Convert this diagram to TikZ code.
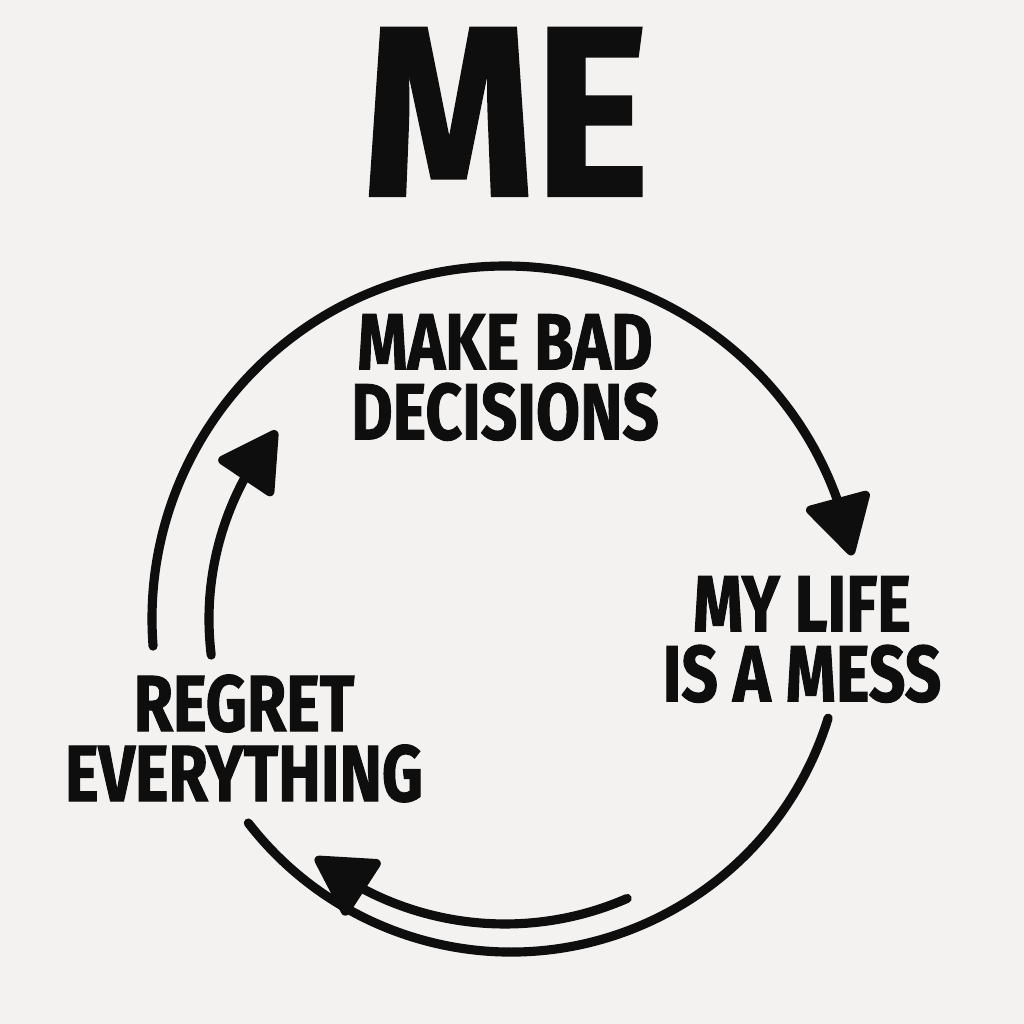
\documentclass[tikz,border=0pt]{standalone}
\usepackage{fontspec}
\usepackage{tikz}
\usetikzlibrary{arrows.meta,bending}

\newfontfamily\signfont[FakeStretch=0.8, FakeBold=1.2]{Fira Sans}
\newfontfamily\titlefont[FakeStretch=0.9, FakeBold=1]{Fira Sans}
\definecolor{paper}{RGB}{243,242,240}
\definecolor{ink}{RGB}{14,14,14}

\begin{document}
\begin{tikzpicture}[every node/.style={font=\signfont\bfseries\fontsize{22.7}{19.9}\selectfont, text=ink, align=center, inner sep=0pt},
    loop/.style={draw=ink, line width=2.6pt, line cap=round},
    head/.style={-{Triangle[length=6.4mm,width=7mm,round]}}]
    \fill[paper] (0,0) rectangle (10.24,10.24);
    \useasboundingbox (0,0) rectangle (10.24,10.24);

    % title
    \node[font=\titlefont\bfseries\fontsize{69}{69}\selectfont] (me) at (5.06,9.12) {ME};

    % stages
    \node (bad) at (5.05,6.465) {MAKE BAD\\DECISIONS};
    \node (mess) at (8.02,3.845) {MY LIFE\\IS A MESS};
    \node (regret) at (2.44,2.855) {REGRET\\EVERYTHING};

    % centres of the loop
    \coordinate (hub) at (5.05,4.05);
    \coordinate (hublow) at (5.11,4.04);

    % outer loop
    \draw[loop, head] ([shift={(184.4:3.53)}]hub) arc[start angle=184.4, end angle=10.4, radius=3.53];
    \draw[loop] ([shift={(-17.2:3.32)}]hublow) arc[start angle=-17.2, end angle=-142.3, radius=3.32];

    % inner arrows
    \draw[loop, head] ([shift={(187:2.96)}]hub) arc[start angle=187, end angle=140.5, radius=2.96];
    \draw[loop, head] ([shift={(-66.4:3.05)}]hub) arc[start angle=-66.4, end angle=-128.5, radius=3.05];

\end{tikzpicture}
\end{document}
